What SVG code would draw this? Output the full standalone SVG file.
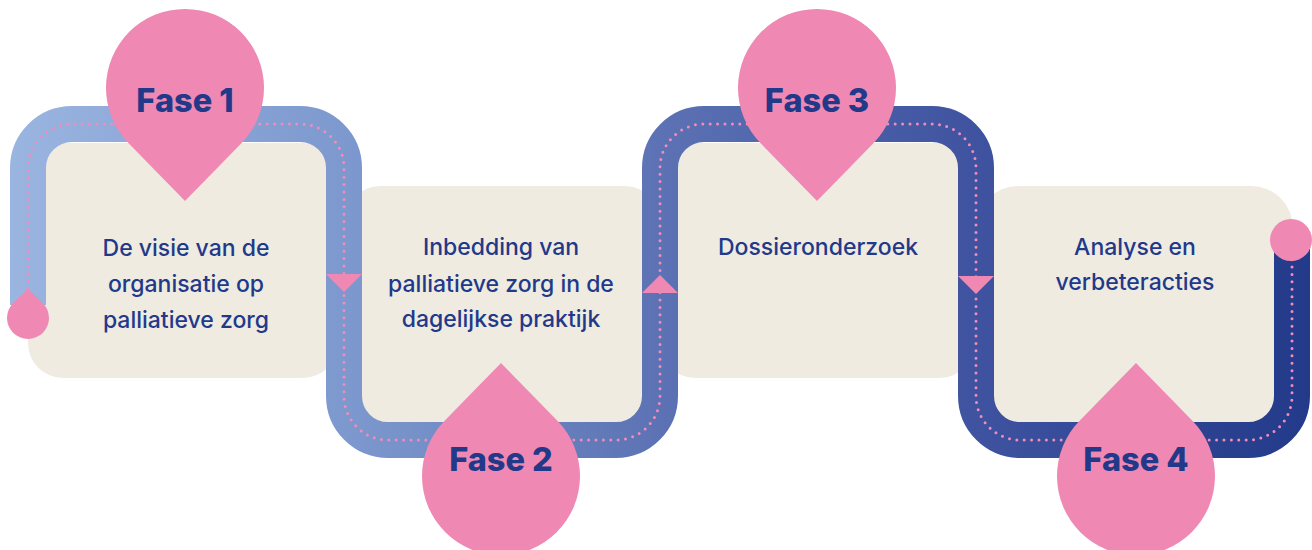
<svg xmlns="http://www.w3.org/2000/svg" width="1312" height="550" viewBox="0 0 1312 550">
<style>
.box{fill:#EFEBE1}
.pink{fill:#EF89B4}
.track{fill:none;stroke:url(#tg);stroke-width:36}
.dots{fill:none;stroke:#F08DB8;stroke-width:3;stroke-linecap:round;stroke-dasharray:0 7.4}
.fase{font-family:Inter,"Liberation Sans",sans-serif;font-weight:800;font-size:32.5px;fill:#22398A;text-anchor:middle}
.body{font-family:Inter,"Liberation Sans",sans-serif;font-weight:500;font-size:23px;fill:#22398A;text-anchor:middle}
</style>
<defs>
<linearGradient id="tg" gradientUnits="userSpaceOnUse" x1="10" y1="0" x2="1310" y2="0">
<stop offset="0" stop-color="#9AB5E0"/>
<stop offset="0.27" stop-color="#7C97CD"/>
<stop offset="0.5" stop-color="#5C72B4"/>
<stop offset="0.74" stop-color="#3F53A0"/>
<stop offset="1" stop-color="#233A8A"/>
</linearGradient>
</defs>
<rect width="1312" height="550" fill="#FFFFFF"/>
<g id="boxes">
<rect id="box1" class="box" x="28" y="143" width="310" height="235" rx="35"/>
<rect id="box2" class="box" x="345" y="186" width="315" height="236" rx="35"/>
<rect id="box3" class="box" x="660" y="143" width="315" height="235" rx="35"/>
<rect id="box4" class="box" x="976" y="186" width="317" height="236" rx="42"/>
</g>
<g id="connectors">
<path class="track" d="M28,305 L28,168 A44,44 0 0 1 72,124 L300,124 A44,44 0 0 1 344,168 L344,396 A44,44 0 0 0 388,440 L616,440 A44,44 0 0 0 660,396 L660,168 A44,44 0 0 1 704,124 L932,124 A44,44 0 0 1 976,168 L976,396 A44,44 0 0 0 1020,440 L1248,440 A44,44 0 0 0 1292,396 L1292,240"/>
<path class="dots" d="M28,296 L28,168 A44,44 0 0 1 72,124 L300,124 A44,44 0 0 1 344,168 L344,396 A44,44 0 0 0 388,440 L616,440 A44,44 0 0 0 660,396 L660,168 A44,44 0 0 1 704,124 L932,124 A44,44 0 0 1 976,168 L976,396 A44,44 0 0 0 1020,440 L1248,440 A44,44 0 0 0 1292,396 L1292,255"/>
<polygon class="pink" points="326,274 362,274 344,292"/>
<polygon class="pink" points="642,293 678,293 660,275"/>
<polygon class="pink" points="958,276 994,276 976,294"/>
<path id="start" class="pink" d="M28,289 L42.5,302.8 A21,21 0 1 1 13.5,302.8 Z"/>
<circle id="end" class="pink" cx="1291" cy="240" r="21"/>
</g>
<g id="phase1">
<path class="pink" d="M185,201 L128.6,143.2 A79,79 0 1 1 241.4,143.2 Z"/>
<text class="fase" x="185" y="112">Fase 1</text>
<text class="body" x="186" y="256">De visie van de</text>
<text class="body" x="186" y="292">organisatie op</text>
<text class="body" x="186" y="328">palliatieve zorg</text>
</g>
<g id="phase2">
<path class="pink" d="M501,363 L557.4,420.8 A79,79 0 1 1 444.6,420.8 Z"/>
<text class="fase" x="501" y="471">Fase 2</text>
<text class="body" x="501" y="255">Inbedding van</text>
<text class="body" x="501" y="292">palliatieve zorg in de</text>
<text class="body" x="501" y="327">dagelijkse praktijk</text>
</g>
<g id="phase3">
<path class="pink" d="M817,201 L760.6,143.2 A79,79 0 1 1 873.4,143.2 Z"/>
<text class="fase" x="817" y="112">Fase 3</text>
<text class="body" x="818" y="255">Dossieronderzoek</text>
</g>
<g id="phase4">
<path class="pink" d="M1136,363 L1192.4,420.8 A79,79 0 1 1 1079.6,420.8 Z"/>
<text class="fase" x="1136" y="471">Fase 4</text>
<text class="body" x="1135" y="255">Analyse en</text>
<text class="body" x="1135" y="290">verbeteracties</text>
</g>
</svg>
